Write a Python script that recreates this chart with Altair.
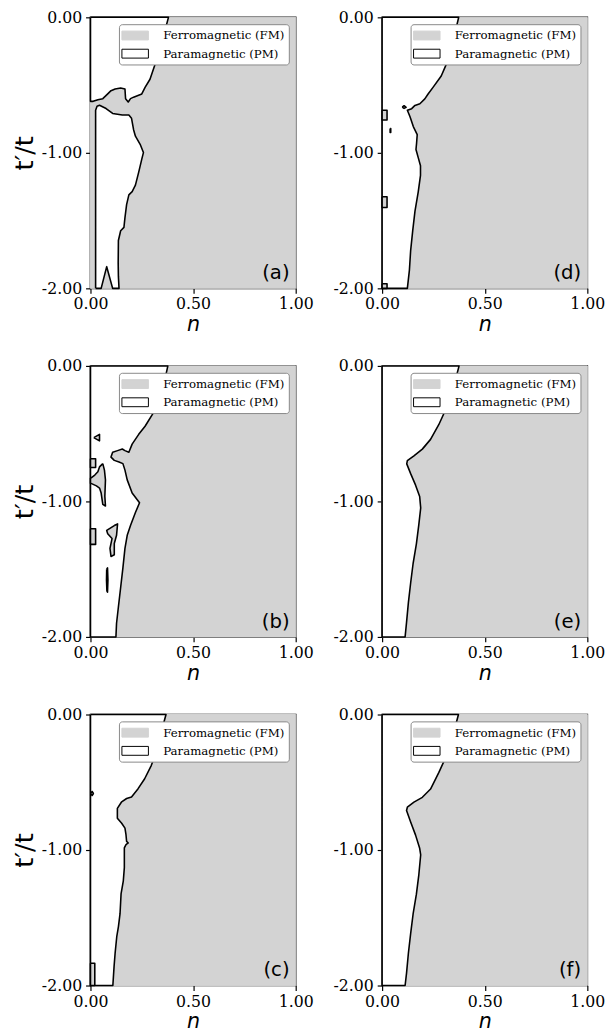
import altair as alt
import pandas as pd

FM = "Ferromagnetic (FM)"
PM = "Paramagnetic (PM)"
PHASES = [FM, PM]
PHASE_FILL = ["#d3d3d3", "white"]
PHASE_STROKE = ["#d3d3d3", "black"]
N_RANGE = [0.0, 1.0]
T_RANGE = [-2.0, 0.0]
X_TICKS = [0.0, 0.5, 1.0]
Y_TICKS = [-2.0, -1.0, 0.0]
PANEL_LABELS = ["(a)", "(b)", "(c)", "(d)", "(e)", "(f)"]
LABEL_N = 0.97
LABEL_T = -1.96
Y_TITLE = "t′/t"

# ---------------- panel (a) ----------------
a_top_n = [0.0, 0.38, 0.35, 0.314, 0.29, 0.266, 0.25, 0.21, 0.195, 0.184, 0.171, 0.168,
           0.147, 0.12, 0.10, 0.084, 0.06, 0.036, 0.013, 0.0, 0.0]
a_top_t = [0.0, 0.0, -0.17, -0.35, -0.457, -0.517, -0.565, -0.589, -0.60, -0.625, -0.60,
           -0.529, -0.522, -0.529, -0.541, -0.565, -0.60, -0.608, -0.62, -0.62, 0.0]
a_pocket_n = [0.025, 0.025, 0.032, 0.044, 0.076, 0.108, 0.155, 0.187, 0.20, 0.21, 0.219,
              0.242, 0.258, 0.25, 0.235, 0.219, 0.203, 0.187, 0.176, 0.168, 0.163, 0.147,
              0.136, 0.135, 0.136, 0.139, 0.108, 0.079, 0.052, 0.025]
a_pocket_t = [-2.0, -0.685, -0.656, -0.649, -0.673, -0.709, -0.721, -0.721, -0.745, -0.829,
              -0.877, -0.937, -0.998, -1.046, -1.142, -1.238, -1.286, -1.31, -1.382, -1.478,
              -1.55, -1.575, -1.647, -1.815, -1.91, -2.0, -2.0, -1.84, -2.0, -2.0]

# ---------------- panel (b) ----------------
b_bnd_n = [0.377, 0.353, 0.33, 0.301, 0.266, 0.235, 0.203, 0.187, 0.168, 0.155, 0.132, 0.108,
           0.1, 0.116, 0.139, 0.158, 0.168, 0.179, 0.203, 0.239, 0.219, 0.195, 0.179, 0.168,
           0.158, 0.147, 0.136, 0.127, 0.124]
b_bnd_t = [0.0, -0.168, -0.288, -0.36, -0.445, -0.505, -0.577, -0.637, -0.625, -0.613, -0.625,
           -0.637, -0.673, -0.697, -0.709, -0.721, -0.769, -0.841, -0.938, -1.01, -1.082,
           -1.178, -1.25, -1.346, -1.49, -1.635, -1.779, -1.899, -2.0]
b_tri_n = [0.016, 0.044, 0.044, 0.016]
b_tri_t = [-0.529, -0.505, -0.553, -0.529]
b_rect1_n = [0.0, 0.025, 0.025, 0.0, 0.0]
b_rect1_t = [-0.685, -0.685, -0.75, -0.75, -0.685]
b_isl1_n = [0.06, 0.068, 0.073, 0.070, 0.073, 0.06, 0.052, 0.044, 0.029, 0.0, 0.0, 0.021,
            0.036, 0.044, 0.06]
b_isl1_t = [-0.721, -0.769, -0.841, -0.962, -1.034, -1.022, -0.938, -0.901, -0.885, -0.865,
            -0.83, -0.805, -0.781, -0.745, -0.721]
b_rect2_n = [0.0, 0.025, 0.025, 0.0, 0.0]
b_rect2_t = [-1.202, -1.202, -1.317, -1.317, -1.202]
b_isl2_n = [0.116, 0.132, 0.127, 0.116, 0.116, 0.1, 0.095, 0.105, 0.084, 0.079, 0.116]
b_isl2_t = [-1.178, -1.166, -1.25, -1.31, -1.394, -1.406, -1.346, -1.274, -1.238, -1.214, -1.178]
b_sliver_n = [0.079, 0.083, 0.085, 0.083, 0.080, 0.078, 0.079]
b_sliver_t = [-1.50, -1.49, -1.58, -1.67, -1.66, -1.58, -1.50]

# ---------------- panel (c) ----------------
c_bnd_n = [0.368, 0.344, 0.32, 0.296, 0.264, 0.232, 0.2, 0.176, 0.152, 0.131, 0.131, 0.152,
           0.168, 0.173, 0.176, 0.184, 0.173, 0.165, 0.165, 0.16, 0.149, 0.144, 0.136, 0.128,
           0.12, 0.115, 0.109]
c_bnd_t = [0.0, -0.134, -0.279, -0.377, -0.474, -0.547, -0.608, -0.62, -0.644, -0.693, -0.765,
           -0.802, -0.838, -0.887, -0.936, -0.948, -0.96, -0.984, -1.13, -1.227, -1.324, -1.47,
           -1.567, -1.64, -1.762, -1.859, -2.0]
c_dot_n = [0.002, 0.008, 0.014, 0.008, 0.002]
c_dot_t = [-0.583, -0.568, -0.583, -0.598, -0.583]
c_rect_n = [0.0, 0.021, 0.021, 0.0, 0.0]
c_rect_t = [-1.835, -1.835, -2.0, -2.0, -1.835]

# ---------------- panel (d) ----------------
d_bnd_n = [0.373, 0.36, 0.336, 0.312, 0.288, 0.248, 0.224, 0.208, 0.184, 0.16, 0.144, 0.123,
           0.136, 0.152, 0.171, 0.168, 0.165, 0.176, 0.187, 0.187, 0.176, 0.16, 0.149, 0.139,
           0.133, 0.123]
d_bnd_t = [0.0, -0.084, -0.205, -0.349, -0.433, -0.517, -0.566, -0.602, -0.638, -0.65, -0.674,
           -0.686, -0.734, -0.806, -0.866, -0.927, -0.975, -1.035, -1.095, -1.167, -1.288,
           -1.432, -1.576, -1.721, -1.865, -2.0]
d_rect1_n = [0.0, 0.024, 0.024, 0.0, 0.0]
d_rect1_t = [-0.686, -0.686, -0.758, -0.758, -0.686]
d_rect2_n = [0.0, 0.024, 0.024, 0.0, 0.0]
d_rect2_t = [-1.324, -1.324, -1.403, -1.403, -1.324]
d_rect3_n = [0.0, 0.024, 0.024, 0.0, 0.0]
d_rect3_t = [-1.966, -1.966, -2.0, -2.0, -1.966]
d_dot_n = [0.098, 0.107, 0.117, 0.107, 0.098]
d_dot_t = [-0.662, -0.652, -0.664, -0.672, -0.662]
d_tick_n = [0.039, 0.042, 0.042, 0.039, 0.039]
d_tick_t = [-0.82, -0.82, -0.85, -0.85, -0.82]

# ---------------- panel (e) ----------------
e_bnd_n = [0.375, 0.348, 0.316, 0.276, 0.236, 0.196, 0.155, 0.123, 0.12, 0.139, 0.163, 0.183,
           0.188, 0.179, 0.167, 0.151, 0.139, 0.128, 0.119, 0.112]
e_bnd_t = [0.0, -0.157, -0.301, -0.434, -0.542, -0.614, -0.663, -0.699, -0.723, -0.795, -0.88,
           -0.964, -1.048, -1.169, -1.313, -1.458, -1.602, -1.747, -1.892, -2.0]

# ---------------- panel (f) ----------------
f_bnd_n = [0.372, 0.348, 0.316, 0.276, 0.236, 0.196, 0.155, 0.123, 0.119, 0.139, 0.163, 0.183,
           0.188, 0.179, 0.167, 0.151, 0.139, 0.128, 0.119, 0.112]
f_bnd_t = [0.0, -0.138, -0.296, -0.429, -0.55, -0.611, -0.647, -0.684, -0.708, -0.793, -0.89,
           -0.987, -1.035, -1.181, -1.326, -1.472, -1.617, -1.762, -1.908, -2.0]


def pm_from_boundary(bn, bt):
    """PM region: left edge of the panel plus the phase boundary."""
    ns = [N_RANGE[0]] + list(bn) + [N_RANGE[0], N_RANGE[0]]
    ts = [T_RANGE[1]] + list(bt) + [T_RANGE[0], T_RANGE[1]]
    return ns, ts


pm_polys = {
    "a": [(a_top_n, a_top_t), (a_pocket_n, a_pocket_t)],
    "b": [pm_from_boundary(b_bnd_n, b_bnd_t)],
    "c": [pm_from_boundary(c_bnd_n, c_bnd_t)],
    "d": [pm_from_boundary(d_bnd_n, d_bnd_t)],
    "e": [pm_from_boundary(e_bnd_n, e_bnd_t)],
    "f": [pm_from_boundary(f_bnd_n, f_bnd_t)],
}
fm_islands = {
    "a": [],
    "b": [(b_tri_n, b_tri_t), (b_rect1_n, b_rect1_t), (b_isl1_n, b_isl1_t),
          (b_rect2_n, b_rect2_t), (b_isl2_n, b_isl2_t), (b_sliver_n, b_sliver_t)],
    "c": [(c_dot_n, c_dot_t), (c_rect_n, c_rect_t)],
    "d": [(d_rect1_n, d_rect1_t), (d_rect2_n, d_rect2_t), (d_rect3_n, d_rect3_t),
          (d_dot_n, d_dot_t), (d_tick_n, d_tick_t)],
    "e": [],
    "f": [],
}


def poly_frame(polys):
    rows = []
    for pid, (ns, ts) in enumerate(polys):
        for i, (n, t) in enumerate(zip(ns, ts)):
            rows.append({"pid": pid, "i": i, "n": n, "t": t})
    return pd.DataFrame(rows, columns=["pid", "i", "n", "t"])


LABEL_EXPR = "(datum.value < 0 ? '-' : '') + format(abs(datum.value), '.2f')"
W, H = 209, 276


def panel(key, label, left_col):
    xs = alt.Scale(domain=N_RANGE, nice=False, zero=False)
    ys = alt.Scale(domain=T_RANGE, nice=False, zero=False)
    xaxis = alt.Axis(values=X_TICKS, labelExpr=LABEL_EXPR, title="n",
                     titleFontStyle="italic", titleFontSize=21, titlePadding=2)
    if left_col:
        yaxis = alt.Axis(values=Y_TICKS, labelExpr=LABEL_EXPR, title=Y_TITLE,
                         titleFontSize=26, titlePadding=4)
    else:
        yaxis = alt.Axis(values=Y_TICKS, labelExpr=LABEL_EXPR, title=None)

    legend = alt.Legend(
        title=None, orient="top-right", offset=7, fillColor="white", strokeColor="#888888",
        cornerRadius=3, padding=4, labelFont="DejaVu Serif", labelFontSize=12,
        labelColor="black", labelOffset=21, symbolOffset=5, rowPadding=3.5, labelLimit=300,
        symbolType="M-2,-0.67H2V0.67H-2Z", symbolSize=182, symbolStrokeWidth=1,
    )

    bg_df = pd.DataFrame({"n": [N_RANGE[0]], "n2": [N_RANGE[1]],
                          "t": [T_RANGE[0]], "t2": [T_RANGE[1]], "phase": [FM]})
    bg = alt.Chart(bg_df).mark_rect().encode(
        x=alt.X("n:Q", scale=xs, axis=xaxis),
        x2="n2:Q",
        y=alt.Y("t:Q", scale=ys, axis=yaxis),
        y2="t2:Q",
        fill=alt.Fill("phase:N", scale=alt.Scale(domain=PHASES, range=PHASE_FILL), legend=legend),
        stroke=alt.Stroke("phase:N", scale=alt.Scale(domain=PHASES, range=PHASE_STROKE), legend=legend),
    )

    layers = [bg]
    pm_df = poly_frame(pm_polys[key])
    layers.append(
        alt.Chart(pm_df).mark_line(fill="white", stroke="black", strokeWidth=1.6,
                                   strokeJoin="round").encode(
            x=alt.X("n:Q", scale=xs), y=alt.Y("t:Q", scale=ys),
            order="i:Q", detail="pid:N")
    )
    if fm_islands[key]:
        fm_df = poly_frame(fm_islands[key])
        layers.append(
            alt.Chart(fm_df).mark_line(fill="#d3d3d3", stroke="black", strokeWidth=1.6,
                                       strokeJoin="round").encode(
                x=alt.X("n:Q", scale=xs), y=alt.Y("t:Q", scale=ys),
                order="i:Q", detail="pid:N")
        )
    lab_df = pd.DataFrame({"n": [LABEL_N], "t": [LABEL_T], "label": [label]})
    layers.append(
        alt.Chart(lab_df).mark_text(align="right", baseline="bottom", font="DejaVu Sans",
                                    fontSize=20, color="black").encode(
            x=alt.X("n:Q", scale=xs), y=alt.Y("t:Q", scale=ys), text="label:N")
    )
    return alt.layer(*layers).properties(width=W, height=H)


keys_left = ["a", "b", "c"]
keys_right = ["d", "e", "f"]
rows = []
for r in range(3):
    kl, kr = keys_left[r], keys_right[r]
    row = alt.hconcat(
        panel(kl, PANEL_LABELS[r], True),
        panel(kr, PANEL_LABELS[r + 3], False),
        spacing=18,
    ).resolve_scale(fill="independent", stroke="independent").resolve_legend(
        fill="independent", stroke="independent")
    rows.append(row)

chart = alt.vconcat(*rows, spacing=22).resolve_scale(
    fill="independent", stroke="independent").resolve_legend(
    fill="independent", stroke="independent").properties(
    padding={"left": 3, "top": -9, "right": 0, "bottom": 0}
).configure_view(
    stroke="black", strokeWidth=1.6
).configure_axis(
    domain=False, grid=False, ticks=True, tickColor="black", tickWidth=1.2, tickSize=5,
    labelFont="DejaVu Serif", labelFontSize=16, labelColor="black", labelPadding=3,
    labelFlush=False, labelOverlap=False, titleFont="DejaVu Sans",
    titleFontWeight="normal", titleColor="black",
).configure_axisY(labelPadding=4)

chart.save("out.html", embed_options={"renderer": "svg", "actions": False})
